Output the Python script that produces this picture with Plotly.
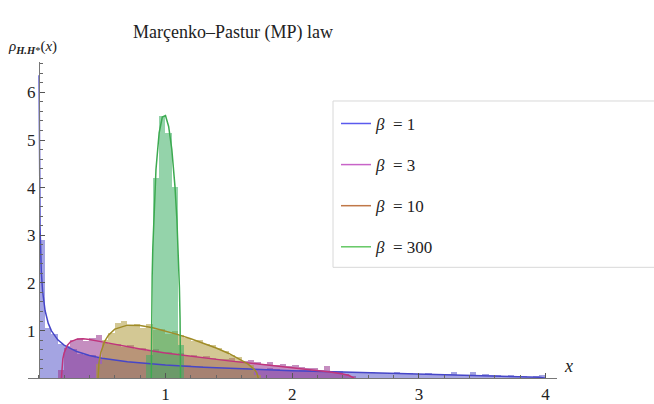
import numpy as np
import plotly.graph_objects as go

# ---------------- data ----------------
betas = ["1", "3", "10", "300"]
bin_width = 0.05

# histogram bin heights, each series starts at its own left edge
hist_start = {"1": 0.0, "3": 0.15, "10": 0.45, "300": 0.85}
hist_b1 = [2.90, 1.05, 0.93, 0.70, 0.66, 0.60, 0.50, 0.48, 0.47, 0.42,
           0.40, 0.38, 0.37, 0.35, 0.33, 0.32, 0.31, 0.30, 0.28, 0.29,
           0.26, 0.27, 0.25, 0.26, 0.23, 0.24, 0.22, 0.23, 0.21, 0.20,
           0.21, 0.19, 0.20, 0.18, 0.19, 0.17, 0.21, 0.18, 0.16, 0.17,
           0.15, 0.16, 0.17, 0.13, 0.14, 0.15, 0.12, 0.14, 0.12, 0.13,
           0.11, 0.10, 0.13, 0.11, 0.10, 0.09, 0.12, 0.09, 0.10, 0.08,
           0.09, 0.10, 0.07, 0.09, 0.08, 0.13, 0.06, 0.07, 0.12, 0.06,
           0.08, 0.05, 0.06, 0.04, 0.07, 0.03, 0.04, 0.02, 0.03, 0.05]
hist_b3 = [0.17, 0.62, 0.80, 0.84, 0.78, 0.83, 0.90, 0.74, 0.70, 0.72,
           0.64, 0.68, 0.60, 0.62, 0.56, 0.60, 0.52, 0.54, 0.50, 0.52,
           0.46, 0.49, 0.43, 0.46, 0.41, 0.40, 0.39, 0.42, 0.36, 0.35,
           0.37, 0.33, 0.30, 0.33, 0.28, 0.29, 0.25, 0.27, 0.22, 0.20,
           0.21, 0.17, 0.25, 0.15, 0.12, 0.09, 0.03]
hist_b10 = [0.30, 0.80, 0.95, 1.16, 1.20, 1.10, 1.13, 1.05, 1.12, 1.00,
            1.02, 0.92, 0.98, 0.90, 0.83, 0.78, 0.80, 0.70, 0.68, 0.62,
            0.56, 0.48, 0.44, 0.32, 0.26, 0.06]
hist_b300 = [0.48, 4.20, 5.50, 5.15, 4.00, 0.69]

curve_b1_x = [0.0025, 0.003, 0.005, 0.01, 0.02, 0.03, 0.05, 0.075, 0.1, 0.15,
              0.2, 0.3, 0.4, 0.5, 0.7, 1.0, 1.3, 1.6, 2.0, 2.4, 2.8, 3.2,
              3.5, 3.8, 3.95, 4.0]
curve_b1_y = [6.36, 5.81, 4.50, 3.18, 2.245, 1.83, 1.415, 1.151, 0.994, 0.806,
              0.694, 0.559, 0.477, 0.421, 0.346, 0.276, 0.229, 0.195, 0.159,
              0.130, 0.104, 0.080, 0.060, 0.0365, 0.0179, 0.0]
curve_b3_x = [0.1786, 0.19, 0.2, 0.225, 0.25, 0.3, 0.35, 0.4, 0.5, 0.6, 0.8,
              1.0, 1.25, 1.5, 1.75, 2.0, 2.2, 2.3, 2.4, 2.45, 2.488]
curve_b3_y = [0.0, 0.407, 0.528, 0.688, 0.763, 0.820, 0.826, 0.811, 0.763,
              0.710, 0.611, 0.528, 0.440, 0.364, 0.294, 0.225, 0.1656, 0.131,
              0.088, 0.0573, 0.0]
curve_b10_x = [0.4675, 0.475, 0.49, 0.52, 0.55, 0.6, 0.7, 0.8, 0.9, 1.0, 1.1,
               1.2, 1.3, 1.4, 1.5, 1.6, 1.65, 1.7, 1.72, 1.7325]
curve_b10_y = [0.0, 0.325, 0.543, 0.772, 0.904, 1.03, 1.114, 1.108, 1.061,
               0.994, 0.915, 0.828, 0.735, 0.633, 0.520, 0.385, 0.301, 0.187,
               0.116, 0.0]
curve_b300_x = [0.8879, 0.89, 0.895, 0.9, 0.91, 0.925, 0.95, 0.975, 1.0, 1.025,
                1.05, 1.075, 1.09, 1.1, 1.11, 1.115, 1.1188]
curve_b300_y = [0.0, 1.190, 2.134, 2.736, 3.568, 4.381, 5.148, 5.483, 5.512,
                5.284, 4.804, 4.022, 3.343, 2.742, 1.903, 1.260, 0.0]

x_ticks = [1, 2, 3, 4]
y_ticks = [1, 2, 3, 4, 5, 6]

# ---------------- styles ----------------
hist_fill = {"1": "rgba(80,80,200,0.52)", "3": "rgba(150,50,140,0.55)",
             "10": "rgba(175,155,60,0.55)", "300": "rgba(60,175,100,0.55)"}
curve_col = {"1": "#4646c8", "3": "#c0347c", "10": "#a08c28", "300": "#3caa50"}
legend_col = {"1": "#5a5aee", "3": "#c864c8", "10": "#c07848", "300": "#64c864"}

hists = {"1": hist_b1, "3": hist_b3, "10": hist_b10, "300": hist_b300}
curves = {"1": (curve_b1_x, curve_b1_y), "3": (curve_b3_x, curve_b3_y),
          "10": (curve_b10_x, curve_b10_y), "300": (curve_b300_x, curve_b300_y)}

W, H = 654, 404
SERIF = "Liberation Serif"

fig = go.Figure()

for b in betas:
    vals = hists[b]
    centers = hist_start[b] + bin_width * (np.arange(len(vals)) + 0.5)
    fig.add_trace(go.Bar(x=centers, y=vals, width=bin_width,
                         marker=dict(color=hist_fill[b], line=dict(width=0)),
                         showlegend=False, hoverinfo="skip"))

for b in betas:
    cx, cy = curves[b]
    fig.add_trace(go.Scatter(x=cx, y=cy, mode="lines",
                             line=dict(color=curve_col[b], width=1.5),
                             showlegend=False))

for b in betas:
    fig.add_trace(go.Scatter(x=[None], y=[None], mode="lines",
                             line=dict(color=legend_col[b], width=1.5),
                             name=f"<i>β</i>  = {b}", legendgroup=b))

fig.update_layout(
    width=W, height=H,
    margin=dict(l=0, r=0, t=0, b=0),
    paper_bgcolor="white", plot_bgcolor="white",
    barmode="overlay", bargap=0,
    font=dict(family=SERIF, size=16, color="#222"),
    xaxis=dict(domain=[28 / W, 557 / W], range=[-0.085, 4.09],
               anchor="y", showgrid=False, zeroline=False,
               showline=True, linecolor="#777", linewidth=1,
               ticks="inside", ticklen=5, tickcolor="#555",
               tickvals=x_ticks, tickfont=dict(family=SERIF, size=17, color="#222"),
               minor=dict(ticks="inside", ticklen=3, tickcolor="#666",
                          tick0=0, dtick=0.2)),
    yaxis=dict(domain=[(H - 382) / H, (H - 63) / H], range=[0, 6.63],
               anchor="free", position=39 / W, showgrid=False, zeroline=False,
               showline=True, linecolor="#777", linewidth=1,
               ticks="inside", ticklen=5, tickcolor="#555",
               tickvals=y_ticks, tickfont=dict(family=SERIF, size=17, color="#222"),
               minor=dict(ticks="inside", ticklen=3, tickcolor="#666",
                          tick0=0, dtick=0.2)),
    legend=dict(x=336 / W, y=1 - 107 / H, xanchor="left", yanchor="top",
                bgcolor="rgba(0,0,0,0)", borderwidth=0,
                font=dict(family=SERIF, size=17, color="#222"),
                tracegroupgap=16, itemwidth=30),
    showlegend=True,
)

# legend frame (extends to the right edge as in the original)
fig.add_shape(type="rect", xref="paper", yref="paper",
              x0=333 / W, x1=1.01, y0=1 - 270 / H, y1=1 - 102 / H,
              line=dict(color="#d8d8d8", width=1), fillcolor="rgba(0,0,0,0)",
              layer="below")

fig.add_annotation(text="Marçenko–Pastur (MP) law", xref="paper", yref="paper",
                   x=233 / W, y=1 - 20 / H, showarrow=False,
                   font=dict(family=SERIF, size=18, color="#222"))
fig.add_annotation(text="<i>ρ</i><sub><b><i>H.H</i></b>*</sub>(<i>x</i>)",
                   xref="paper", yref="paper", x=6 / W, y=1 - 36 / H,
                   xanchor="left", showarrow=False,
                   font=dict(family=SERIF, size=15, color="#222"))
fig.add_annotation(text="<i>x</i>", xref="paper", yref="paper",
                   x=575 / W, y=1 - 382 / H, showarrow=False,
                   font=dict(family=SERIF, size=18, color="#222"))

fig.write_html("out.html")
